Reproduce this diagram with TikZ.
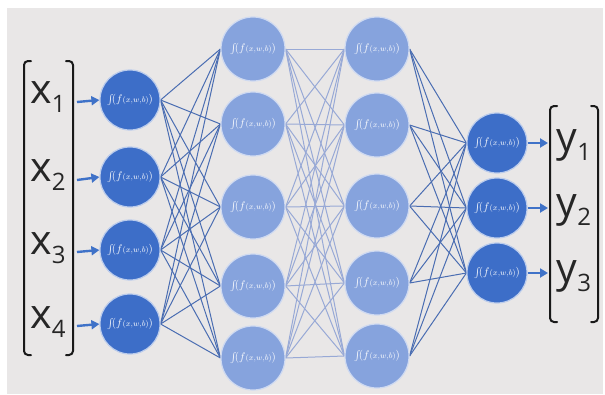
\documentclass[tikz,border=0pt]{standalone}
\usepackage{fontspec}
\newfontfamily\labelfont{Open Sans}
\usetikzlibrary{arrows.meta}
\pgfdeclarelayer{canvas}
\pgfdeclarelayer{wires}
\pgfsetlayers{canvas,wires,main}
\definecolor{bgray}{HTML}{E9E7E7}
\definecolor{darkneuron}{HTML}{3D6EC8}
\definecolor{lightneuron}{HTML}{86A3DD}
\definecolor{outerwire}{HTML}{4A6DB2}
\definecolor{innerwire}{HTML}{98A9D6}
\definecolor{arrowblue}{HTML}{3F72C8}
\tikzset{
  neuron/.style={circle, minimum size=#1, inner sep=0pt, text=white,
    font=\fontsize{10.95}{11}\selectfont},
  darkcell/.style={neuron=60pt, fill=darkneuron, draw=darkneuron!35!white, line width=1.2pt},
  lightcell/.style={neuron=64pt, fill=lightneuron, draw=lightneuron!40!white, line width=1.2pt},
  outerlink/.style={draw=outerwire, line width=1pt},
  innerlink/.style={draw=innerwire, line width=1pt},
  feed/.style={draw=arrowblue, line width=2.4pt, -{Triangle[length=8pt,width=9pt]}},
  bracketline/.style={draw=black!90, line width=2pt, line cap=round, rounded corners=4pt},
  veclabel/.style={inner sep=0pt, text=black!85, font=\labelfont\fontsize{41}{41}\selectfont}
}
\newcommand{\actfn}{$\int\!(f{\scriptstyle(x,w,b)})$}
\newcommand{\vsub}[2]{#1\raisebox{-9pt}{\fontsize{24}{24}\selectfont #2}}
\begin{document}
\begin{tikzpicture}[x=1pt,y=-1pt]
  \useasboundingbox (0,0) rectangle (605,394);
  \begin{pgfonlayer}{canvas}
    \fill[bgray] (7,8) rectangle (603,394);
  \end{pgfonlayer}

  % neurons: hidden layers a, b, c and output layer d
  \foreach \i/\y in {1/100,2/177,3/250,4/324} \node[darkcell] (a\i) at (130,\y) {\actfn};
  \foreach \i/\y in {1/49,2/124,3/207,4/286,5/358} \node[lightcell] (b\i) at (253,\y) {\actfn};
  \foreach \i/\y in {1/49,2/125,3/206,4/283,5/356} \node[lightcell] (c\i) at (377,\y) {\actfn};
  \foreach \i/\y in {1/143,2/208,3/273} \node[darkcell] (d\i) at (497,\y) {\actfn};

  % fully connected weights, kept behind the neurons
  \begin{pgfonlayer}{wires}
    \foreach \i in {1,...,4} \foreach \j in {1,...,5} \path[outerlink] (a\i.east) -- (b\j.west);
    \foreach \i in {1,...,5} \foreach \j in {1,...,5} \path[innerlink] (b\i.east) -- (c\j.west);
    \foreach \i in {1,...,5} \foreach \j in {1,...,3} \path[outerlink] (c\i.east) -- (d\j.west);
  \end{pgfonlayer}

  % input vector
  \draw[bracketline] (31,61) -- (24,61) -- (24,355) -- (31,355);
  \draw[bracketline] (66,61) -- (73,61) -- (73,355) -- (66,355);
  \node[veclabel] (x1) at (48,97) {\vsub{x}{1}};
  \node[veclabel] (x2) at (48,175) {\vsub{x}{2}};
  \node[veclabel] (x3) at (48,248) {\vsub{x}{3}};
  \node[veclabel] (x4) at (48,322) {\vsub{x}{4}};
  \coordinate (xi1) at (77,102);
  \coordinate (xi2) at (77,180);
  \coordinate (xi3) at (77,252);
  \coordinate (xi4) at (77,326);
  \foreach \i in {1,...,4} \draw[feed] (xi\i) -- (a\i.west);

  % output vector
  \draw[bracketline] (557,106) -- (550,106) -- (550,322) -- (557,322);
  \draw[bracketline] (591,106) -- (598,106) -- (598,322) -- (591,322);
  \node[veclabel] (y1) at (574,145) {\vsub{y}{1}};
  \node[veclabel] (y2) at (574,210) {\vsub{y}{2}};
  \node[veclabel] (y3) at (574,276) {\vsub{y}{3}};
  \coordinate (yo1) at (548,143);
  \coordinate (yo2) at (548,208);
  \coordinate (yo3) at (548,273);
  \foreach \i in {1,...,3} \draw[feed] (d\i.east) -- (yo\i);
\end{tikzpicture}
\end{document}
